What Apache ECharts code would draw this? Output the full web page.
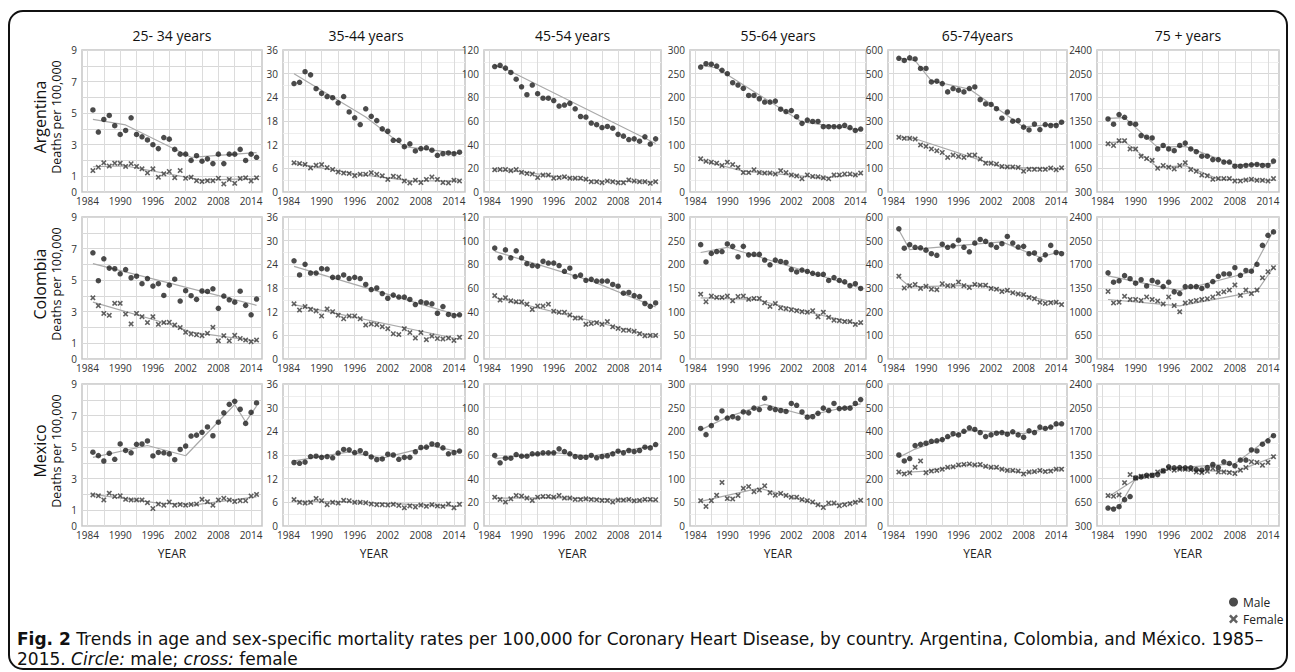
<!DOCTYPE html>
<html><head><meta charset="utf-8">
<script src="https://cdn.jsdelivr.net/npm/echarts@6/dist/echarts.min.js"></script>
<style>html,body{margin:0;padding:0;background:#fff;}#c{width:1295px;height:672px;}</style>
</head><body><div id="c"></div>
<script>
// ---------- data ----------
const years = [1985,1986,1987,1988,1989,1990,1991,1992,1993,1994,1995,1996,1997,1998,1999,2000,2001,2002,2003,2004,2005,2006,2007,2008,2009,2010,2011,2012,2013,2014,2015];
const xTickLabels = [1984,1990,1996,2002,2008,2014];
const xGridYears = [1984,1987,1990,1993,1996,1999,2002,2005,2008,2011,2014];
const countries = ['Argentina','Colombia','Mexico'];
const ageGroups = ['25- 34 years','35-44 years','45-54 years','55-64 years','65-74years','75 + years'];
const yMin = [0,0,0,0,0,300];
const yMax = [9,36,120,300,600,2400];
const yStep = [1,6,20,50,100,350];
const legendNames = ['Male','Female'];

// Argentina
const arg25_m = [5.2,3.8,4.6,4.85,4.2,3.65,3.9,4.7,3.65,3.5,3.3,3.0,2.75,3.45,3.35,2.7,2.4,2.4,2.0,2.3,1.95,2.1,1.8,2.4,1.8,2.4,2.4,2.7,2.0,2.4,2.2];
const arg25_f = [1.36,1.57,1.85,1.64,1.83,1.83,1.62,1.79,1.62,1.47,1.21,1.47,0.94,1.15,1.3,0.91,1.36,0.87,0.94,0.72,0.66,0.72,0.72,0.87,0.51,0.8,0.55,0.85,0.9,0.7,0.9];
const arg25_mt = [[1985,4.6],[1991,4.25],[2003,2.2],[2015,2.5]];
const arg25_ft = [[1985,1.6],[1991,1.65],[2005,0.75],[2015,0.85]];
const arg35_m = [27.5,27.8,30.5,29.7,26.2,25.0,24.2,23.9,22.6,24.2,20.3,18.8,17.1,21.1,19.2,18.1,16.0,15.4,13.1,13.1,11.5,12.2,10.4,11.0,11.2,10.6,9.3,9.7,9.9,9.7,10.1];
const arg35_f = [7.4,7.2,7.0,6.1,6.8,6.95,6.2,5.7,5.1,4.8,4.7,4.15,4.5,4.5,4.9,4.5,4.1,3.2,4.0,3.8,2.8,2.3,3.0,2.4,3.2,3.8,3.2,2.4,2.3,3.0,2.8];
const arg35_mt = [[1985,30],[1998,19],[2005,11.5],[2015,9.8]];
const arg35_ft = [[1985,7.3],[1996,4.6],[2006,2.9],[2015,2.8]];
const arg45_m = [106,107,104.7,101,95.3,88.9,82.2,90.4,83.1,79.3,79.3,77.3,72.6,73.5,74.9,70.3,63.8,63.3,58.3,56.9,54.5,55.4,53.9,48.7,47.2,44.3,44.9,42.9,46.6,40.5,44.9];
const arg45_f = [18.7,19,19,18,19,16.6,15.7,15.2,12.2,14.3,14.3,11.7,12.2,12.8,11.7,11.7,11.7,10.8,8.7,8.7,7.9,9.3,8.7,7.9,7.9,10.2,9.3,8.7,8.7,7.3,8.7];
const arg45_mt = [[1985,107],[1987,104],[2015,41]];
const arg45_ft = [[1985,19],[1990,17],[2003,9.5],[2015,8.5]];
const arg55_m = [264,271,270,266,257,250,231,226,219,204,204,197,190,190,192,175,170,172,159,145,152,149,149,138,138,138,138,141,136,130,133];
const arg55_f = [70,65,63,61,56,63,58,52,41,41,47,41,40,40,38,45,41,36,34,28,36,33,32,30,28,36,36,38,38,36,40];
const arg55_mt = [[1985,268],[1988,262],[2004,148],[2015,131]];
const arg55_ft = [[1985,67],[1993,44],[2008,30],[2015,37]];
const arg65_m = [565,556,567,562,522,522,465,468,458,423,437,430,423,437,444,390,372,370,352,312,338,299,302,274,262,287,264,285,281,281,295];
const arg65_f = [231,227,227,224,199,193,182,174,167,146,156,150,146,156,156,139,122,122,118,108,106,106,104,88,96,96,96,96,101,94,102];
const arg65_mt = [[1985,566],[1988,555],[1991,470],[1998,435],[2008,275],[2015,288]];
const arg65_ft = [[1985,232],[1988,225],[2004,105],[2015,98]];
const arg75_m = [1380,1303,1446,1405,1314,1303,1135,1110,1100,937,988,937,911,988,1023,937,896,830,830,779,779,743,743,682,682,692,702,708,692,692,758];
const arg75_f = [1013,988,1059,1059,937,937,830,794,769,651,692,667,641,692,733,631,606,550,539,488,499,499,499,463,463,478,488,473,473,463,499];
const arg75_mt = [[1985,1390],[1988,1400],[1994,960],[1999,975],[2008,700],[2015,720]];
const arg75_ft = [[1985,1030],[1988,1045],[1994,665],[1999,690],[2005,490],[2015,470]];

// Colombia
const col25_m = [6.73,4.96,6.35,5.76,5.72,5.4,5.67,5.15,5.25,4.77,5.1,4.62,4.77,4.03,4.68,5.06,3.67,4.33,4.01,3.78,4.31,4.28,4.45,3.21,3.99,3.75,3.6,4.3,3.4,2.8,3.8];
const col25_f = [3.88,3.38,2.89,2.77,3.53,3.53,2.85,2.22,2.89,2.68,2.31,2.68,2.2,2.31,2.33,2.16,1.99,1.69,1.59,1.53,1.48,1.63,2.01,1.15,1.48,1.15,1.5,1.3,1.2,1.1,1.2];
const col25_mt = [[1985,6.05],[2015,3.4]];
const col25_ft = [[1985,3.6],[1999,2.2],[2003,1.7],[2015,1.15]];
const col35_m = [24.9,21.3,24,21.8,21.8,22.9,22.8,20.7,20.7,21.3,20.4,20.7,20.4,18.9,17.6,18,16.6,15.4,16.2,15.7,15.7,15.1,13.8,14.5,14.2,14,11.6,13.3,11.3,11.0,11.2];
const col35_f = [14,12.4,13.3,12.6,12.2,10.9,12.7,12,11.1,10.2,10.9,10.9,10.2,8.6,8.9,8.7,8.2,7.7,6.4,6.2,7.7,6.7,5.3,6.7,4.9,5.8,5.2,5.1,5.3,4.7,5.5];
const col35_mt = [[1985,23.5],[2015,11]];
const col35_ft = [[1985,13.8],[2015,5.0]];
const col45_m = [93.7,85.5,92.2,85.5,91.4,85.5,80.5,79,78.5,82.6,81.1,81.1,79,74.1,76.7,69.7,70.9,66.5,67.3,65.9,65.9,65.9,63,61.5,55.6,56.2,53.6,52.7,46.9,44.5,47.4];
const col45_f = [53.6,49.8,51.8,49.2,48.3,48.3,46.3,41.9,44.8,44.8,46.3,40.4,39.5,39.5,37.2,34.6,34.6,29.3,29.9,30.7,29.3,31.6,27.2,25.8,24.3,24.3,23.4,21.4,19.6,19.9,19.9];
const col45_mt = [[1985,91],[2003,66],[2015,44]];
const col45_ft = [[1985,52],[2015,19]];
const col55_m = [241.6,205,223,227,227,243,238,216,238,220,221,221,209,199,209,206,204,189,184,188,185,181,179,179,166,172,166,163,155,159,149];
const col55_f = [137,121,133,130,130,133,123,132,133,126,128,128,119,111,117,108,106,104,102,100,99,102,89,99,88,82,81,79,79,73,77];
const col55_mt = [[1985,225],[1990,236],[2015,150]];
const col55_ft = [[1985,129],[1995,126],[2015,73]];
const col65_m = [550,468,483,472,470,460,445,438,485,472,478,502,472,453,490,505,497,482,472,487,518,490,473,476,445,448,420,440,480,450,445];
const col65_f = [350,300,310,315,298,307,295,293,318,310,310,325,310,302,315,312,312,298,295,285,290,280,275,272,260,255,240,235,238,240,230];
const col65_mt = [[1985,545],[1987,462],[2004,495],[2011,430],[2015,455]];
const col65_ft = [[1985,345],[1987,305],[2000,312],[2015,232]];
const col75_m = [1574,1436,1456,1533,1487,1421,1472,1380,1461,1436,1370,1436,1293,1268,1370,1370,1370,1344,1385,1446,1523,1558,1558,1650,1538,1609,1599,1701,1980,2130,2180];
const col75_f = [1300,1130,1140,1227,1181,1181,1166,1217,1181,1156,1115,1217,1090,998,1130,1151,1166,1181,1191,1217,1268,1293,1319,1395,1242,1319,1268,1319,1500,1590,1650];
const col75_mt = [[1985,1530],[1998,1310],[2011,1590],[2015,2200]];
const col75_ft = [[1985,1180],[1998,1085],[2012,1300],[2015,1660]];

// Mexico
const mex25_m = [4.68,4.46,4.12,4.61,4.23,5.2,4.79,4.64,5.18,5.2,5.39,4.44,4.66,4.64,4.57,4.2,4.85,5.07,5.7,5.76,5.94,6.28,5.72,6.58,7.17,7.71,7.9,7.4,6.5,7.2,7.8];
const mex25_f = [1.97,1.91,1.65,2.08,1.87,1.91,1.69,1.65,1.65,1.65,1.48,1.11,1.39,1.32,1.52,1.32,1.37,1.32,1.37,1.39,1.69,1.54,1.32,1.65,1.76,1.65,1.55,1.6,1.6,1.9,2.0];
const mex25_mt = [[1985,4.35],[1995,5.1],[2002,4.45],[2011,7.7],[2013,6.6],[2015,7.6]];
const mex25_ft = [[1985,2.0],[1997,1.45],[2004,1.35],[2015,1.85]];
const mex35_m = [16.1,15.9,16.2,17.6,17.7,17.4,17.6,17.3,18.5,19.4,19.3,18.6,19.1,18.4,17.5,16.8,17.0,18.2,18.0,16.9,17.4,17.4,18.8,19.9,20.0,20.8,20.6,19.8,18.3,18.6,19.0];
const mex35_f = [6.7,6.0,5.8,6.0,7.0,6.4,5.4,6.0,5.8,6.5,6.4,6.0,6.0,5.9,5.6,5.4,5.4,5.3,5.5,5.2,4.6,5.1,4.8,5.3,5.0,5.4,5.1,5.0,5.6,4.6,5.5];
const mex35_mt = [[1985,16.5],[1995,18.8],[2001,17.2],[2010,20.3],[2015,18.8]];
const mex35_ft = [[1985,6.3],[1995,6.1],[2015,5.0]];
const mex45_m = [59.6,53.4,57.3,57.3,60.4,59,59,61,61,61.8,61.8,61.8,65.2,62.9,61,58.7,58.1,58.1,59.6,57.6,58.7,59.3,61,63.2,61.8,63.8,62.9,63.8,66.6,66,68.8];
const mex45_f = [24.4,22.5,20.2,23,25.8,25.3,23.6,21.6,24.4,25,25,24.4,25.8,23.6,23.6,22.5,22.5,23,22.5,22.2,21.6,21.6,20.2,21.9,21.9,22.5,21.3,21.6,22.5,22.5,22.2];
const mex45_mt = [[1985,57],[1996,62],[2003,59],[2015,68]];
const mex45_ft = [[1985,23.5],[1996,24],[2015,21.5]];
const mex55_m = [206,193,212,228,243,228,231,228,241,239,249,246,270,249,246,244,242,259,255,241,230,231,238,249,244,259,248,249,249,259,267];
const mex55_f = [53.6,41.3,53.6,65.2,92,58,57.2,64.5,79.7,83.3,72.5,76,84.8,70.3,65.2,68.8,64.5,60.9,60.9,55.8,53.6,50.7,44.9,39.1,48.6,48.6,42.8,44.9,47.1,50,54.3];
const mex55_mt = [[1985,203],[1990,230],[1997,257],[2005,233],[2015,258]];
const mex55_ft = [[1985,52],[1996,80],[2008,42],[2015,53]];
const mex65_m = [300,275,285,340,345,350,358,360,365,378,390,385,400,415,408,395,378,385,392,395,388,398,385,375,402,395,418,412,418,432,432];
const mex65_f = [228,220,225,248,275,225,232,235,240,248,250,258,260,262,258,260,252,248,248,240,235,235,232,220,228,230,235,230,232,240,240];
const mex65_mt = [[1985,290],[1988,325],[1998,405],[2008,390],[2015,430]];
const mex65_ft = [[1985,225],[1990,232],[1998,260],[2008,225],[2015,240]];
const mex75_m = [565,550,585,690,735,1010,1025,1050,1050,1060,1115,1175,1160,1165,1160,1160,1135,1125,1165,1210,1165,1250,1225,1190,1275,1275,1425,1410,1510,1560,1635];
const mex75_f = [750,740,760,940,1060,1010,1035,1035,1050,1100,1115,1150,1125,1140,1140,1135,1100,1090,1110,1150,1100,1100,1090,1075,1125,1165,1250,1240,1200,1240,1325];
const mex75_mt = [[1985,560],[1987,580],[1990,1000],[1997,1160],[2008,1220],[2015,1650]];
const mex75_ft = [[1985,730],[1990,990],[1996,1140],[2008,1100],[2015,1320]];

const panels = [
  [[arg25_m,arg25_f,arg25_mt,arg25_ft],[arg35_m,arg35_f,arg35_mt,arg35_ft],[arg45_m,arg45_f,arg45_mt,arg45_ft],[arg55_m,arg55_f,arg55_mt,arg55_ft],[arg65_m,arg65_f,arg65_mt,arg65_ft],[arg75_m,arg75_f,arg75_mt,arg75_ft]],
  [[col25_m,col25_f,col25_mt,col25_ft],[col35_m,col35_f,col35_mt,col35_ft],[col45_m,col45_f,col45_mt,col45_ft],[col55_m,col55_f,col55_mt,col55_ft],[col65_m,col65_f,col65_mt,col65_ft],[col75_m,col75_f,col75_mt,col75_ft]],
  [[mex25_m,mex25_f,mex25_mt,mex25_ft],[mex35_m,mex35_f,mex35_mt,mex35_ft],[mex45_m,mex45_f,mex45_mt,mex45_ft],[mex55_m,mex55_f,mex55_mt,mex55_ft],[mex65_m,mex65_f,mex65_mt,mex65_ft],[mex75_m,mex75_f,mex75_mt,mex75_ft]]
];

// ---------- layout & style ----------
const colLeft = [82,283,484,690,888,1097];
const colWidth = [180,182,177,176,179,182];
const rowTop = [50,217,384];
const rowHeight = 142;
const FONT = '"Open Sans", "Noto Sans", sans-serif';
const CAPFONT = '"DejaVu Sans", "Open Sans", sans-serif';
const crossPath = 'path://M0,2 L2,0 L5,3 L8,0 L10,2 L7,5 L10,8 L8,10 L5,7 L2,10 L0,8 L3,5 Z';

const grids = [], xAxes = [], yAxes = [], series = [];
let k = 0;
for (let r = 0; r < 3; r++) {
  for (let c = 0; c < 6; c++) {
    grids.push({left: colLeft[c], top: rowTop[r], width: colWidth[c], height: rowHeight,
      show: true, borderColor: '#c6c6c6', borderWidth: 1.5, backgroundColor: '#fff'});
    xAxes.push({
      type: 'value', gridIndex: k, min: 1983, max: 2016, interval: 1,
      axisLine: {show: false},
      axisTick: {show: false, customValues: xGridYears},
      axisLabel: {customValues: xTickLabels, fontSize: 10, fontFamily: FONT, color: '#333', margin: 4,
        formatter: v => (xTickLabels.indexOf(v) >= 0 ? String(v) : '')},
      splitLine: {show: true, lineStyle: {color: '#dcdcdc', width: 1}},
      name: r === 2 ? 'YEAR' : '', nameLocation: 'middle', nameGap: 21,
      nameTextStyle: {fontSize: 12, fontFamily: FONT, color: '#222'}
    });
    yAxes.push({
      type: 'value', gridIndex: k, min: yMin[c], max: yMax[c], interval: yStep[c],
      axisLine: {show: false}, axisTick: {show: false},
      axisLabel: {fontSize: 10, fontFamily: FONT, color: '#333', margin: 5,
        formatter: v => (c === 0 && v !== 0 && v % 2 === 0) ? '' : String(v)},
      splitLine: {show: true, lineStyle: {color: '#d8d8d8', width: 1}},
      minorTick: {show: false, splitNumber: 2},
      minorSplitLine: {show: c !== 0, lineStyle: {color: '#eeeeee', width: 1}}
    });
    const p = panels[r][c];
    const toPairs = arr => years.map((y, i) => [y, arr[i]]);
    series.push({type: 'line', xAxisIndex: k, yAxisIndex: k, data: p[2], symbol: 'none', silent: true,
      lineStyle: {color: '#a9a9a9', width: 1.2}, z: 2, name: 'Male trend'});
    series.push({type: 'line', xAxisIndex: k, yAxisIndex: k, data: p[3], symbol: 'none', silent: true,
      lineStyle: {color: '#a9a9a9', width: 1.2}, z: 2, name: 'Female trend'});
    series.push({type: 'scatter', name: legendNames[0], xAxisIndex: k, yAxisIndex: k, data: toPairs(p[0]),
      symbol: 'circle', symbolSize: 5.5, itemStyle: {color: '#1e1e1e'}, z: 4, silent: true});
    series.push({type: 'scatter', name: legendNames[1], xAxisIndex: k, yAxisIndex: k, data: toPairs(p[1]),
      symbol: crossPath, symbolSize: 5.5, itemStyle: {color: '#3a3a3a'}, z: 3, silent: true});
    k++;
  }
}

const graphic = [
  {type: 'rect', shape: {x: 9, y: 11, width: 1278, height: 658, r: 14},
   style: {fill: 'none', stroke: '#111', lineWidth: 2}, silent: true, z: 100}
];
for (let c = 0; c < 6; c++) {
  graphic.push({type: 'text', x: colLeft[c] + colWidth[c] / 2 - (c === 1 ? 8 : 0), y: 35,
    style: {text: ageGroups[c], font: '14px ' + FONT, fill: '#111', align: 'center', verticalAlign: 'middle',
      textAlign: 'center', textVerticalAlign: 'middle'}});
}
for (let r = 0; r < 3; r++) {
  const cy = rowTop[r] + rowHeight / 2 - 4;
  graphic.push({type: 'text', x: 40, y: cy, rotation: Math.PI / 2,
    style: {text: countries[r], font: '16px ' + FONT, fill: '#111', align: 'center', verticalAlign: 'middle',
      textAlign: 'center', textVerticalAlign: 'middle'}});
  graphic.push({type: 'text', x: 56, y: cy, rotation: Math.PI / 2,
    style: {text: 'Deaths per 100,000', font: '12.5px ' + FONT, fill: '#111', align: 'center', verticalAlign: 'middle',
      textAlign: 'center', textVerticalAlign: 'middle'}});
}
const CAP = 17;
graphic.push({type: 'text', x: 17, y: 639,
  style: {text: '{b|Fig. 2} Trends in age and sex-specific mortality rates per 100,000 for Coronary Heart Disease, by country. Argentina, Colombia, and México. 1985–',
    fontSize: CAP, fontFamily: CAPFONT, fill: '#111', verticalAlign: 'middle', textVerticalAlign: 'middle', lineHeight: 19,
    rich: {b: {fontSize: CAP, fontFamily: CAPFONT, fontWeight: 'bold', fill: '#111', color: '#111', lineHeight: 19}}}});
graphic.push({type: 'text', x: 17, y: 659,
  style: {text: '2015. {i|Circle:} male; {i|cross:} female',
    fontSize: CAP, fontFamily: CAPFONT, fill: '#111', verticalAlign: 'middle', textVerticalAlign: 'middle', lineHeight: 19,
    rich: {i: {fontSize: CAP, fontFamily: CAPFONT, fontStyle: 'italic', fill: '#111', color: '#111', lineHeight: 19}}}});

const chart = echarts.init(document.getElementById('c'), null, {renderer: 'svg'});
chart.setOption({
  animation: false,
  backgroundColor: '#fff',
  grid: grids, xAxis: xAxes, yAxis: yAxes, series: series,
  legend: {orient: 'vertical', left: 1224, top: 591, itemWidth: 9, itemHeight: 9, itemGap: 5, selectedMode: false,
    textStyle: {fontSize: 12, fontFamily: FONT, color: '#222'},
    data: [{name: 'Male', icon: 'circle'}, {name: 'Female', icon: crossPath}]},
  graphic: graphic
});
</script></body></html>
